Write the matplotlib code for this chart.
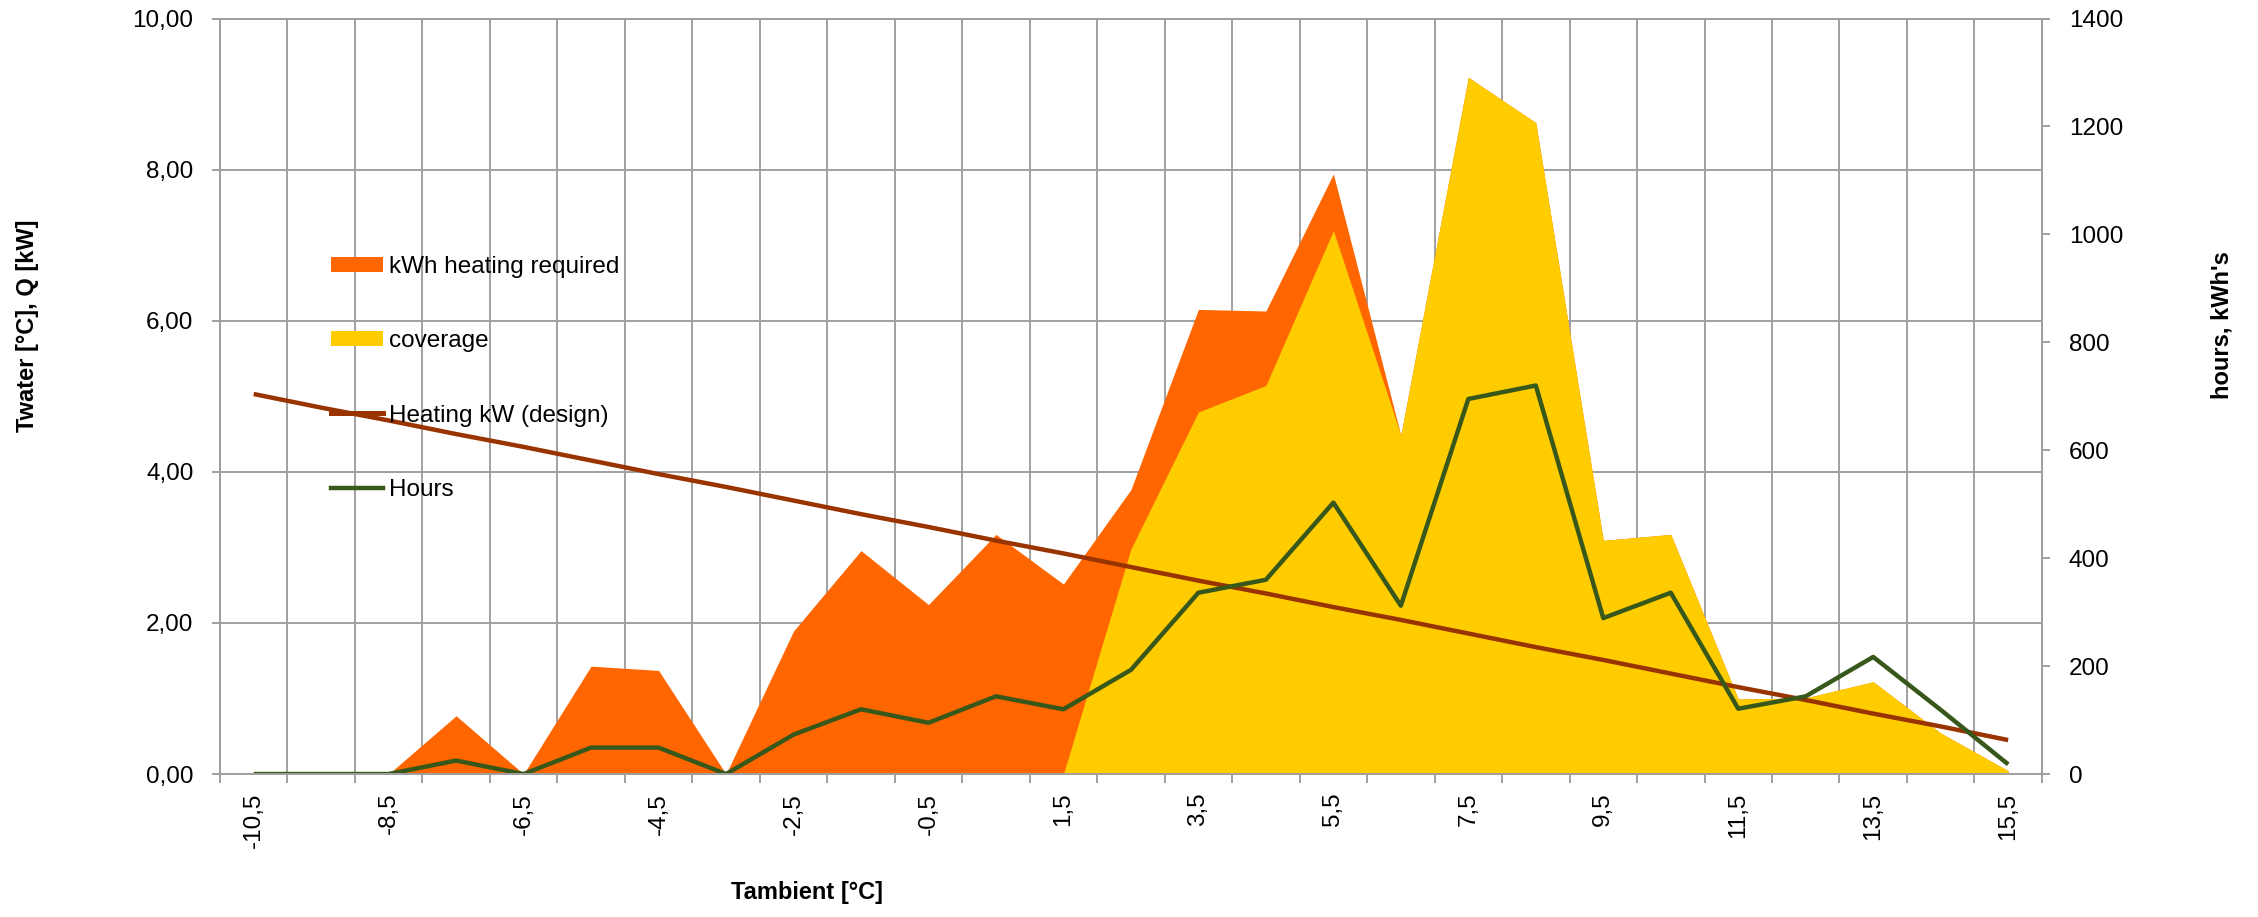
import matplotlib.pyplot as plt
from matplotlib.patches import Patch
from matplotlib.lines import Line2D
import numpy as np

plt.rcParams['font.family'] = ['Liberation Sans', 'DejaVu Sans']

# ambient temperature classes (categories on the x axis)
temps = ['-10,5', '-9,5', '-8,5', '-7,5', '-6,5', '-5,5', '-4,5', '-3,5',
         '-2,5', '-1,5', '-0,5', '0,5', '1,5', '2,5', '3,5', '4,5', '5,5',
         '6,5', '7,5', '8,5', '9,5', '10,5', '11,5', '12,5', '13,5', '14,5',
         '15,5']

# right axis (hours, kWh's)
heating_required = [0, 0, 0, 108, 0, 200, 192, 0, 265, 414, 314, 444, 352,
                    527, 861, 858, 1112, 628, 1291, 1207, 433, 444, 139, 141,
                    171, 76, 6]
coverage = [0, 0, 0, 0, 0, 0, 0, 0, 0, 0, 0, 0, 0,
            417, 671, 720, 1007, 628, 1291, 1207, 433, 444, 139, 141,
            171, 76, 6]
hours = [0, 0, 0, 25, 0, 49, 49, 0, 73, 120, 95, 144, 120, 193, 336, 360,
         503, 312, 695, 720, 289, 336, 121, 144, 217, 119, 18]

# left axis (kW)
heating_design = [5.03, 4.85, 4.68, 4.50, 4.33, 4.15, 3.97, 3.80, 3.62, 3.44,
                  3.27, 3.09, 2.92, 2.74, 2.56, 2.39, 2.21, 2.04, 1.86, 1.68,
                  1.51, 1.33, 1.15, 0.98, 0.80, 0.63, 0.45]

left_ticks = [0, 2, 4, 6, 8, 10]
left_labels = ['0,00', '2,00', '4,00', '6,00', '8,00', '10,00']
right_ticks = [0, 200, 400, 600, 800, 1000, 1200, 1400]

ORANGE = '#FF6600'
YELLOW = '#FFCC00'
BROWN = '#993300'
GREEN = '#38571A'
GRID = '#A0A0A0'

x = np.arange(len(temps))

fig = plt.figure(figsize=(22.58, 9.17), dpi=100)
ax = fig.add_axes([0.0974, 0.1559, 0.8069, 0.8239])
ax2 = ax.twinx()

ax2.fill_between(x, heating_required, color=ORANGE, lw=0)
ax2.fill_between(x, coverage, color=YELLOW, lw=0)
ax2.plot(x, heating_design, color=BROWN, lw=3.2, transform=ax.transData,
         solid_capstyle='butt')
ax2.plot(x, hours, color=GREEN, lw=3.2, solid_capstyle='butt')

ax.set_xlim(-0.5, len(temps) - 0.5)
ax.set_ylim(0, 10)
ax2.set_ylim(0, 1400)

# x axis: labels on every other class, grid on class borders
ax.set_xticks(x[::2])
ax.set_xticklabels(temps[::2], rotation=90, fontsize=17.5)
ax.set_xticks(np.arange(-0.5, len(temps), 1), minor=True)
ax.tick_params(axis='x', which='major', length=0, pad=13.5)
ax.tick_params(axis='x', which='minor', length=6.5, width=1.4, color=GRID,
               direction='out')
ax.grid(True, which='minor', axis='x', color=GRID, lw=1.4)

ax.set_yticks(left_ticks)
ax.set_yticklabels(left_labels, fontsize=17.5)
ax.tick_params(axis='y', length=6, width=1.4, color=GRID, pad=13)
ax.grid(True, which='major', axis='y', color=GRID, lw=1.4)
ax.set_axisbelow(True)

ax2.set_yticks(right_ticks)
ax2.set_yticklabels([str(t) for t in right_ticks], fontsize=17.5)
ax2.tick_params(axis='y', length=6, width=1.4, color=GRID, pad=13.5)

for a in (ax, ax2):
    for s in a.spines.values():
        s.set_color(GRID)
        s.set_linewidth(1.4)

fig.text(0.0124, 0.6445, 'Twater [°C], Q [kW]', rotation=90, fontsize=17,
         fontweight='bold', ha='center', va='center')
fig.text(0.984, 0.6456, "hours, kWh's", rotation=90, fontsize=17,
         fontweight='bold', ha='center', va='center')
fig.text(0.3574, 0.0262, 'Tambient [°C]', fontsize=17, fontweight='bold',
         ha='center', va='center')

handles = [Patch(facecolor=ORANGE, label='kWh heating required'),
           Patch(facecolor=YELLOW, label='coverage'),
           Line2D([], [], color=BROWN, lw=3.6, label='Heating kW (design)'),
           Line2D([], [], color=GREEN, lw=3.2, label='Hours')]
ax2.legend(handles=handles, loc='upper left',
           bbox_to_anchor=(331 / 2258, 1 - 256 / 917),
           bbox_transform=fig.transFigure, frameon=False, fontsize=17.5,
           handlelength=2.15, handleheight=0.6, handletextpad=0.25,
           labelspacing=2.15, borderpad=0, borderaxespad=0)

fig.savefig('out.png', dpi=100)
